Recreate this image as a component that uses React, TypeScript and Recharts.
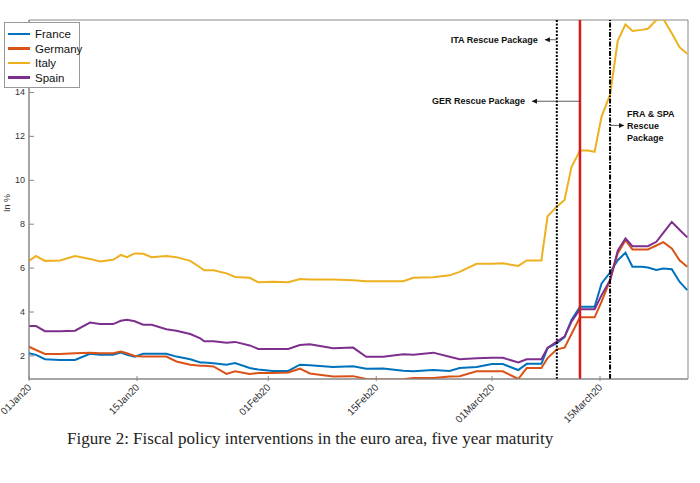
import React from 'react';
import { LineChart, Line, XAxis, YAxis, ReferenceLine, ReferenceDot, ReferenceArea } from 'recharts';

const days = [0, 0.91, 2.07, 4.02, 5.96, 7.9, 9.2, 10.9, 11.9, 12.7, 13.7, 14.8, 15.9, 17.8, 19.1, 20.9, 22.2, 22.7, 23.9, 25.6, 26.7, 28.6, 29.7, 31.6, 33.6, 35.1, 36.4, 39.4, 42.0, 43.7, 45.9, 48.5, 49.8, 52.4, 54.5,
  55.8, 58, 60, 61.4, 63.4, 64.5, 66.4, 67.2, 68.4, 69.4, 70.3, 71.4, 72.4, 73.3, 74.2, 75.3, 76.3, 77.3, 78.2, 79.4, 80.2, 81.3, 82.2, 83.3, 84.3, 85.3];
const italy = [6.33, 6.55, 6.33, 6.35, 6.55, 6.42, 6.3, 6.38, 6.6, 6.5, 6.67, 6.65, 6.5, 6.55, 6.5, 6.33, 6.03, 5.9, 5.9, 5.76, 5.6, 5.56, 5.36, 5.38, 5.36, 5.5, 5.48, 5.48, 5.45, 5.4, 5.4, 5.4, 5.56, 5.58, 5.67,
  5.83, 6.2, 6.2, 6.22, 6.1, 6.35, 6.35, 8.36, 8.8, 9.1, 10.6, 11.36, 11.36, 11.3, 12.9, 13.9, 16.36, 17.1, 16.8, 16.85, 16.9, 17.3, 17.35, 16.7, 16.06, 15.76];
const spain = [3.36, 3.36, 3.13, 3.13, 3.15, 3.52, 3.45, 3.45, 3.6, 3.65, 3.58, 3.42, 3.42, 3.22, 3.15, 3.0, 2.8, 2.67, 2.67, 2.6, 2.64, 2.48, 2.32, 2.32, 2.32, 2.5, 2.53, 2.35, 2.38, 1.96, 1.96, 2.08, 2.06, 2.15, 1.96,
  1.85, 1.9, 1.92, 1.92, 1.7, 1.85, 1.85, 2.36, 2.65, 2.88, 3.56, 4.13, 4.13, 4.13, 4.77, 5.45, 6.8, 7.35, 7.0, 7.0, 7.0, 7.2, 7.6, 8.1, 7.75, 7.4];
const france = [2.12, 2.05, 1.85, 1.82, 1.82, 2.1, 2.05, 2.05, 2.15, 2.05, 1.97, 2.1, 2.1, 2.1, 1.97, 1.85, 1.7, 1.7, 1.67, 1.6, 1.68, 1.45, 1.38, 1.32, 1.32, 1.6, 1.58, 1.5, 1.53, 1.42, 1.43, 1.33, 1.3, 1.36, 1.32,
  1.45, 1.5, 1.63, 1.63, 1.36, 1.64, 1.64, 2.36, 2.58, 2.86, 3.64, 4.24, 4.24, 4.24, 5.3, 5.8, 6.36, 6.7, 6.06, 6.06, 6.03, 5.92, 5.98, 5.95, 5.38, 5.0];
const germany = [2.42, 2.27, 2.09, 2.09, 2.12, 2.15, 2.12, 2.12, 2.2, 2.12, 2.0, 1.97, 1.97, 1.97, 1.75, 1.6, 1.55, 1.55, 1.52, 1.18, 1.3, 1.18, 1.22, 1.22, 1.25, 1.42, 1.2, 1.06, 1.08, 0.95, 0.93, 0.94, 1.0, 1.0, 1.06,
  1.08, 1.3, 1.3, 1.3, 0.95, 1.45, 1.45, 1.9, 2.3, 2.38, 3.0, 3.76, 3.76, 3.76, 4.47, 5.45, 6.68, 7.27, 6.85, 6.85, 6.85, 7.03, 7.18, 6.9, 6.36, 6.06];

const xTicks = [0, 14, 31, 45, 60, 74];
const xTickLabels = ['01Jan20', '15Jan20', '01Feb20', '15Feb20', '01March20', '15March20'];
const yTicks = [2, 4, 6, 8, 10, 12, 14, 16];
const events = [
  { day: 68.4, name: 'ITA' },
  { day: 71.4, name: 'GER' },
  { day: 75.3, name: 'FRA' },
];

const series = [
  { key: 'France', values: france, color: '#0072BD' },
  { key: 'Germany', values: germany, color: '#D95319' },
  { key: 'Italy', values: italy, color: '#EDB120' },
  { key: 'Spain', values: spain, color: '#7E2F8E' },
];

const data = days.map((d, i) => {
  const row: any = { day: d };
  series.forEach((s) => (row[s.key] = s.values[i]));
  return row;
});

const font = 'Arial, "Liberation Sans", sans-serif';

const XTick = (props: any) => {
  const { x, y, payload } = props;
  const idx = xTicks.indexOf(payload.value);
  return (
    <g>
      <line x1={x} x2={x} y1={y} y2={y - 5} stroke="#888" />
      <text x={x + 3} y={y + 7} transform={`rotate(-45 ${x + 3} ${y + 7})`} textAnchor="end" fontSize={10} fontFamily={font} fill="#333">
        {xTickLabels[idx]}
      </text>
    </g>
  );
};

const YTick = (props: any) => {
  const { x, y, payload } = props;
  return (
    <g>
      <line x1={x + 4} x2={x + 9} y1={y} y2={y} stroke="#888" />
      <text x={x} y={y + 3} textAnchor="end" fontSize={9} fontFamily={font} fill="#333">{payload.value}</text>
    </g>
  );
};

const Arrow = ({ cx, cy, len, text, right }: any) => {
  const ex = right ? cx + len : cx - len;
  const d = right ? -1 : 1;
  return (
    <g fontFamily={font} fontSize={9} fontWeight="bold" fill="#111">
      <line x1={cx} y1={cy} x2={ex} y2={cy} stroke="#333" strokeWidth={0.8} />
      <path d={`M${ex} ${cy} L${ex + 5 * d} ${cy - 2.5} L${ex + 5 * d} ${cy + 2.5} Z`} fill="#111" />
      {right ? (
        <text x={ex + 3} y={cy - 8}>
          {text.map((t: string, i: number) => (
            <tspan key={i} x={ex + 3} dy={i === 0 ? 0 : 12}>{t}</tspan>
          ))}
        </text>
      ) : (
        <text x={ex - 7} y={cy + 3} textAnchor="end">{text[0]}</text>
      )}
    </g>
  );
};

export default function App() {
  return (
    <div style={{ position: 'absolute', left: 0, top: 0, width: 700, height: 483, background: '#fff' }}>
      <LineChart width={700} height={483} data={data} margin={{ top: 20, right: 12, left: 9, bottom: 64 }}>
        <XAxis dataKey="day" type="number" domain={[0, 85.4]} ticks={xTicks} tick={<XTick />} tickLine={false} axisLine={{ stroke: '#888' }} height={40} tickSize={0} interval={0} />
        <YAxis type="number" domain={[0.95, 17.3]} ticks={yTicks} tick={<YTick />} tickLine={false} axisLine={{ stroke: '#888' }} width={20} tickSize={0} tickMargin={4} interval={0} allowDataOverflow />
        <ReferenceArea x1={0} x2={85.4} y1={0.95} y2={17.3} fill="none" stroke="#888" strokeWidth={1} />
        {series.map((s) => (
          <Line key={s.key} dataKey={s.key} stroke={s.color} strokeWidth={2} dot={false} isAnimationActive={false} />
        ))}
        <ReferenceLine x={events[0].day} stroke="#000" strokeWidth={2} strokeDasharray="2 1.5" />
        <ReferenceLine x={events[1].day} stroke="#D7191C" strokeWidth={2.5} />
        <ReferenceLine x={events[2].day} stroke="#000" strokeWidth={2} strokeDasharray="5 1.5 1.5 1.5" />
        <ReferenceDot x={events[0].day} y={16.4} r={0} shape={(p: any) => <Arrow cx={p.cx} cy={p.cy} len={12} text={['ITA Rescue Package']} />} />
        <ReferenceDot x={events[1].day} y={13.6} r={0} shape={(p: any) => <Arrow cx={p.cx} cy={p.cy} len={48} text={['GER Rescue Package']} />} />
        <ReferenceDot x={events[2].day} y={12.5} r={0} shape={(p: any) => <Arrow cx={p.cx} cy={p.cy} len={14} right text={['FRA & SPA', 'Rescue', 'Package']} />} />
      </LineChart>
      <div style={{ position: 'absolute', left: 4, top: 190, width: 12, height: 30, fontFamily: font, fontSize: 9, color: '#333' }}>
        <div style={{ transform: 'rotate(-90deg)', transformOrigin: 'center', whiteSpace: 'nowrap', position: 'absolute', left: -6, top: 8 }}>In %</div>
      </div>
      <div style={{ position: 'absolute', left: 4, top: 22, width: 74, height: 64, border: '1px solid #999', background: '#fff', fontFamily: font, fontSize: 11.5, color: '#111' }}>
        {series.map((s, i) => (
          <div key={s.key} style={{ position: 'absolute', top: 4 + i * 14.5, left: 3, display: 'flex', alignItems: 'center', height: 14 }}>
            <span style={{ display: 'inline-block', width: 22, height: 2.5, background: s.color, marginRight: 5 }} />
            {s.key}
          </div>
        ))}
      </div>
      <div style={{ position: 'absolute', left: 67, top: 429, fontFamily: '"Liberation Serif", "DejaVu Serif", serif', fontSize: 17, color: '#222', whiteSpace: 'nowrap' }}>
        Figure 2: Fiscal policy interventions in the euro area, five year maturity
      </div>
    </div>
  );
}
